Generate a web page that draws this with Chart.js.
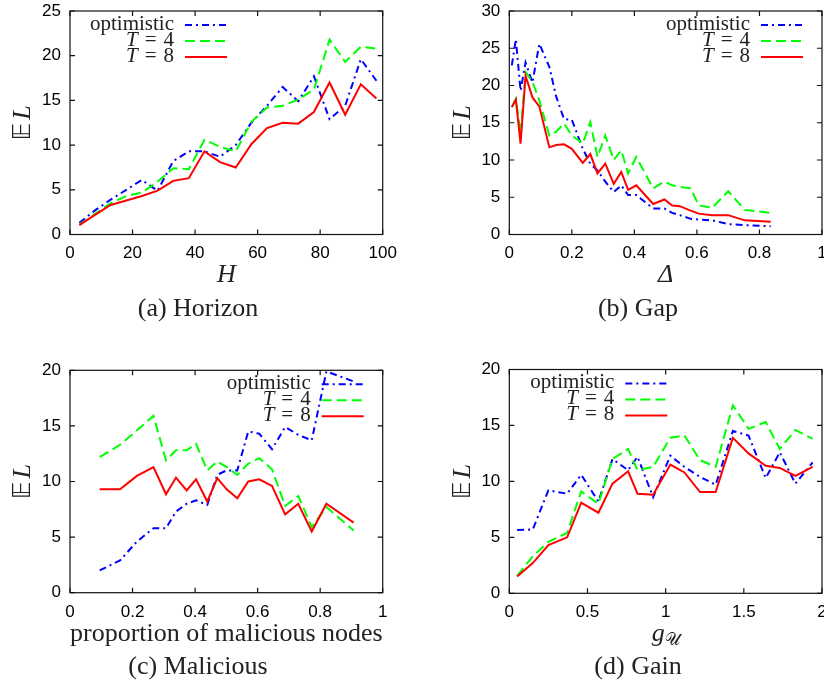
<!DOCTYPE html>
<html><head><meta charset="utf-8">
<script src="https://cdn.jsdelivr.net/npm/chart.js@4.4.1/dist/chart.umd.min.js"></script>
<style>
html,body{margin:0;padding:0;background:#fff;overflow:hidden;width:824px;height:682px}
#wrap{position:relative;width:824px;height:682px;overflow:hidden}
canvas{position:absolute}
</style></head>
<body><div id="wrap">
<canvas id="ca" width="412" height="361" style="left:0;top:-20px"></canvas>
<canvas id="cb" width="430" height="361" style="left:412px;top:-20px"></canvas>
<canvas id="cc" width="412" height="341" style="left:0;top:341px"></canvas>
<canvas id="cd" width="430" height="341" style="left:412px;top:341px"></canvas>
</div>
<script>
// ---------- DATA ----------
const seriesNames = ['optimistic', 'T = 4', 'T = 8'];

// (a) Horizon
const horizonX = [3, 8, 13, 18, 23, 28, 33, 38, 43, 48, 53, 58, 63, 68, 73, 78, 83, 88, 93, 98];
const horizonOpt = [1.3, 2.7, 3.9, 5.0, 6.1, 4.9, 8.2, 9.3, 9.3, 8.7, 10.0, 12.5, 14.4, 16.5, 14.9, 17.7, 12.9, 14.4, 19.6, 17.2];
const horizonT4  = [1.1, 2.3, 3.5, 4.3, 4.7, 5.9, 7.4, 7.3, 10.6, 9.8, 9.3, 12.6, 14.2, 14.4, 15.1, 16.2, 21.8, 19.3, 21.0, 20.8];
const horizonT8  = [1.05, 2.2, 3.3, 3.8, 4.3, 4.9, 6.0, 6.3, 9.3, 8.1, 7.5, 10.1, 11.9, 12.5, 12.4, 13.7, 17.0, 13.4, 16.8, 15.2];

// (b) Gap
const gapX = [0.008, 0.021, 0.036, 0.052, 0.074, 0.096, 0.128, 0.15, 0.175, 0.2, 0.235, 0.259, 0.282, 0.307, 0.334, 0.358, 0.38, 0.406, 0.46, 0.496, 0.521, 0.545, 0.58, 0.606, 0.649, 0.7, 0.753, 0.836];
const gapOpt = [22.7, 26.2, 19.3, 23.1, 20.4, 25.6, 22.5, 18.5, 15.5, 15.4, 11.5, 9.5, 8.6, 7.1, 5.7, 6.6, 5.3, 5.3, 3.5, 3.5, 2.9, 2.6, 2.1, 2.0, 1.9, 1.4, 1.25, 1.1];
const gapT4  = [17.1, 18.2, 13.5, 21.8, 20.5, 18.0, 13.3, 13.8, 14.9, 13.3, 12.2, 15.1, 10.4, 13.3, 10.0, 11.3, 8.2, 10.4, 6.2, 7.1, 6.6, 6.4, 6.2, 3.9, 3.6, 5.8, 3.3, 2.9];
const gapT8  = [17.1, 18.1, 12.2, 21.3, 18.4, 17.2, 11.7, 12.0, 12.1, 11.5, 9.6, 10.8, 8.2, 9.5, 6.8, 8.4, 6.0, 6.6, 4.1, 4.7, 3.9, 3.8, 3.2, 2.8, 2.6, 2.6, 1.9, 1.7];

// (c) Malicious
const malX = [0.095, 0.16, 0.214, 0.267, 0.307, 0.339, 0.373, 0.403, 0.439, 0.471, 0.501, 0.535, 0.57, 0.605, 0.646, 0.688, 0.73, 0.773, 0.82, 0.907];
const malOpt = [2.0, 2.9, 4.6, 5.8, 5.8, 7.3, 8.0, 8.3, 7.9, 10.6, 11.0, 11.0, 14.5, 14.3, 12.9, 14.9, 14.2, 13.7, 19.9, 19.0];
const malT4  = [12.2, 13.3, 14.6, 15.9, 11.9, 12.8, 12.8, 13.4, 11.0, 11.8, 11.3, 10.6, 11.6, 12.1, 11.1, 7.8, 8.7, 5.9, 7.7, 5.6];
const malT8  = [9.3, 9.3, 10.5, 11.3, 8.85, 10.35, 9.2, 10.2, 8.2, 10.3, 9.3, 8.5, 10.0, 10.2, 9.6, 7.05, 8.0, 5.5, 8.0, 6.3];

// (d) Gain
const gainX = [0.05, 0.15, 0.25, 0.37, 0.46, 0.57, 0.66, 0.76, 0.82, 0.92, 1.03, 1.12, 1.22, 1.32, 1.43, 1.53, 1.64, 1.73, 1.83, 1.94];
const gainOpt = [5.65, 5.7, 9.2, 8.9, 10.6, 8.2, 12.0, 11.0, 12.2, 8.6, 12.3, 11.3, 10.4, 9.7, 14.5, 14.1, 10.3, 12.6, 9.8, 11.7];
const gainT4  = [1.55, 3.3, 4.6, 5.4, 9.1, 8.0, 12.0, 12.9, 11.0, 11.3, 13.9, 14.1, 11.9, 11.3, 16.8, 14.7, 15.3, 12.9, 14.6, 13.8];
const gainT8  = [1.5, 2.7, 4.3, 5.0, 8.1, 7.2, 9.8, 10.9, 8.9, 8.8, 11.5, 10.8, 9.05, 9.05, 13.9, 12.5, 11.4, 11.2, 10.5, 11.3];

// ---------- STYLES ----------
const COLORS = ['#0000ff', '#00ff00', '#ff0000'];
const DASHES = [[7, 4, 2, 4], [10, 5], []];
const SERIF = '"Liberation Serif", "Times New Roman", serif';
const SANS = '"Liberation Sans", Arial, sans-serif';
const TXT = '#222';

function pts(xs, ys) { return xs.map((x, i) => ({ x: x, y: ys[i] })); }
function fmt(v) { return String(Math.round(v * 100) / 100); }

const framePlugin = {
  id: 'frame',
  beforeDatasetsDraw(chart) {
    const { ctx, chartArea: a, scales: { x, y } } = chart;
    ctx.save();
    ctx.strokeStyle = '#111';
    ctx.lineWidth = 1.2;
    ctx.strokeRect(a.left, a.top, a.right - a.left, a.bottom - a.top);
    ctx.beginPath();
    x.ticks.forEach(t => {
      const p = x.getPixelForValue(t.value);
      ctx.moveTo(p, a.bottom); ctx.lineTo(p, a.bottom - 5);
      ctx.moveTo(p, a.top); ctx.lineTo(p, a.top + 5);
    });
    y.ticks.forEach(t => {
      const p = y.getPixelForValue(t.value);
      ctx.moveTo(a.left, p); ctx.lineTo(a.left + 5, p);
      ctx.moveTo(a.right, p); ctx.lineTo(a.right - 5, p);
    });
    ctx.stroke();
    ctx.restore();
  }
};

const textPlugin = {
  id: 'texts',
  afterDraw(chart) {
    const o = chart.options.plugins.texts;
    const { ctx, chartArea: a } = chart;
    ctx.save();
    ctx.fillStyle = TXT;
    // y title
    ctx.save();
    ctx.translate(o.yTitleX, (a.top + a.bottom) / 2);
    ctx.rotate(-Math.PI / 2);
    ctx.textBaseline = 'alphabetic';
    ctx.font = '24px "DejaVu Sans", sans-serif';
    const e = '\u{1D53C}';
    const we = ctx.measureText(e).width;
    ctx.font = 'italic 26px ' + SERIF;
    const wl = ctx.measureText('L').width;
    const tot = we + 3 + wl;
    ctx.font = '24px "DejaVu Sans", sans-serif';
    ctx.textAlign = 'left';
    ctx.fillText(e, -tot / 2, 0);
    ctx.font = 'italic 26px ' + SERIF;
    ctx.fillText('L', -tot / 2 + we + 3, 0);
    ctx.restore();
    // x title
    const cx = (a.left + a.right) / 2;
    ctx.textBaseline = 'alphabetic';
    if (o.xTitle.sub) {
      ctx.font = 'italic 26px ' + SERIF;
      const w1 = ctx.measureText(o.xTitle.text).width;
      ctx.font = o.xTitle.subFont;
      const w2 = ctx.measureText(o.xTitle.sub).width;
      const x0 = cx - (w1 + w2) / 2;
      ctx.textAlign = 'left';
      ctx.font = 'italic 26px ' + SERIF;
      ctx.fillText(o.xTitle.text, x0, o.xTitleY);
      ctx.font = o.xTitle.subFont;
      ctx.fillText(o.xTitle.sub, x0 + w1, o.xTitleY + 4);
    } else {
      ctx.font = (o.xTitle.italic ? 'italic ' : '') + '26px ' + SERIF;
      ctx.textAlign = 'center';
      ctx.fillText(o.xTitle.text, cx, o.xTitleY);
    }
    // caption
    ctx.font = '26px ' + SERIF;
    ctx.textAlign = 'center';
    ctx.fillText(o.caption, o.captionX, o.captionY);
    // legend
    const L = o.legend;
    const textRight = L.align === 'left' ? a.left + L.offset : a.right - L.offset;
    chart.data.datasets.forEach((ds, i) => {
      const yy = a.top + 13 + 16 * i;
      ctx.textBaseline = 'middle';
      ctx.textAlign = 'left';
      const name = ds.label;
      if (name.startsWith('T')) {
        const parts = name.split(' ');
        ctx.font = 'italic 21px ' + SERIF;
        const wT = ctx.measureText('T').width;
        ctx.font = '21px ' + SERIF;
        const wEq = ctx.measureText('=').width;
        const wN = ctx.measureText(parts[2]).width;
        const gap = 7;
        let x0 = textRight - (wT + gap + wEq + gap + wN);
        ctx.font = 'italic 21px ' + SERIF;
        ctx.fillText('T', x0, yy);
        ctx.font = '21px ' + SERIF;
        ctx.fillText('=', x0 + wT + gap, yy);
        ctx.fillText(parts[2], x0 + wT + gap + wEq + gap, yy);
      } else {
        ctx.font = '21px ' + SERIF;
        ctx.textAlign = 'right';
        ctx.fillText(name, textRight, yy);
      }
      ctx.save();
      ctx.strokeStyle = ds.borderColor;
      ctx.lineWidth = 2;
      ctx.setLineDash(ds.borderDash || []);
      ctx.beginPath();
      ctx.moveTo(textRight + 11, yy + 1);
      ctx.lineTo(textRight + 53, yy + 1);
      ctx.stroke();
      ctx.restore();
    });
    ctx.restore();
  }
};

function makePanel(id, canvasOff, plot, xs, ys, xScale, yScale, texts) {
  const el = document.getElementById(id);
  const W = el.width, H = el.height;
  const yAxisW = plot.L - canvasOff.x;
  const xAxisH = 30;
  const datasets = ys.map((arr, i) => ({
    label: seriesNames[i],
    data: pts(xs, arr),
    borderColor: COLORS[i],
    borderDash: DASHES[i],
    borderWidth: 2,
    pointRadius: 0,
    fill: false,
    tension: 0,
    order: 3 - i
  }));
  texts.yTitleX -= canvasOff.x;
  texts.xTitleY -= canvasOff.y;
  texts.captionX -= canvasOff.x;
  texts.captionY -= canvasOff.y;
  new Chart(el, {
    type: 'line',
    data: { datasets },
    options: {
      responsive: false,
      animation: false,
      devicePixelRatio: 1,
      layout: { padding: { left: 0, top: plot.T - canvasOff.y, right: canvasOff.x + W - plot.R, bottom: canvasOff.y + H - plot.B - xAxisH } },
      plugins: { legend: { display: false }, tooltip: { enabled: false }, title: { display: false }, texts },
      scales: {
        x: {
          type: 'linear', min: xScale.min, max: xScale.max,
          ticks: { stepSize: xScale.step, color: '#000', font: { family: SANS, size: 17 }, padding: 9, maxRotation: 0, autoSkip: false, callback: fmt },
          grid: { display: false, drawTicks: false },
          border: { display: false },
          afterFit: s => { s.height = xAxisH; }
        },
        y: {
          type: 'linear', min: yScale.min, max: yScale.max,
          ticks: { stepSize: yScale.step, color: '#000', font: { family: SANS, size: 17 }, padding: 9, autoSkip: false, callback: fmt },
          grid: { display: false, drawTicks: false },
          border: { display: false },
          afterFit: s => { s.width = yAxisW; }
        }
      }
    },
    plugins: [framePlugin, textPlugin]
  });
}

makePanel('ca', { x: 0, y: -20 }, { L: 70, T: 11, R: 382.7, B: 234.5 },
  horizonX, [horizonOpt, horizonT4, horizonT8],
  { min: 0, max: 100, step: 20 }, { min: 0, max: 25, step: 5 },
  { yTitleX: 30, xTitle: { text: 'H', italic: true }, xTitleY: 282, caption: '(a) Horizon', captionX: 198, captionY: 316, legend: { align: 'left', offset: 104 } });

makePanel('cb', { x: 412, y: -20 }, { L: 509.3, T: 11, R: 822, B: 234.5 },
  gapX, [gapOpt, gapT4, gapT8],
  { min: 0, max: 1, step: 0.2 }, { min: 0, max: 30, step: 5 },
  { yTitleX: 470, xTitle: { text: '\u0394', italic: true }, xTitleY: 282, caption: '(b) Gap', captionX: 638, captionY: 316, legend: { align: 'right', offset: 72 } });

makePanel('cc', { x: 0, y: 341 }, { L: 70, T: 370.3, R: 382.7, B: 592.7 },
  malX, [malOpt, malT4, malT8],
  { min: 0, max: 1, step: 0.2 }, { min: 0, max: 20, step: 5 },
  { yTitleX: 30, xTitle: { text: 'proportion of malicious nodes', italic: false }, xTitleY: 641, caption: '(c) Malicious', captionX: 198, captionY: 674, legend: { align: 'right', offset: 72 } });

makePanel('cd', { x: 412, y: 341 }, { L: 509.3, T: 369.5, R: 822, B: 593.3 },
  gainX, [gainOpt, gainT4, gainT8],
  { min: 0, max: 2, step: 0.5 }, { min: 0, max: 20, step: 5 },
  { yTitleX: 470, xTitle: { text: 'g', sub: '\u{1D4B0}', subFont: '17px "DejaVu Sans", sans-serif' }, xTitleY: 641, caption: '(d) Gain', captionX: 638, captionY: 674, legend: { align: 'left', offset: 105 } });
</script>
</body></html>
